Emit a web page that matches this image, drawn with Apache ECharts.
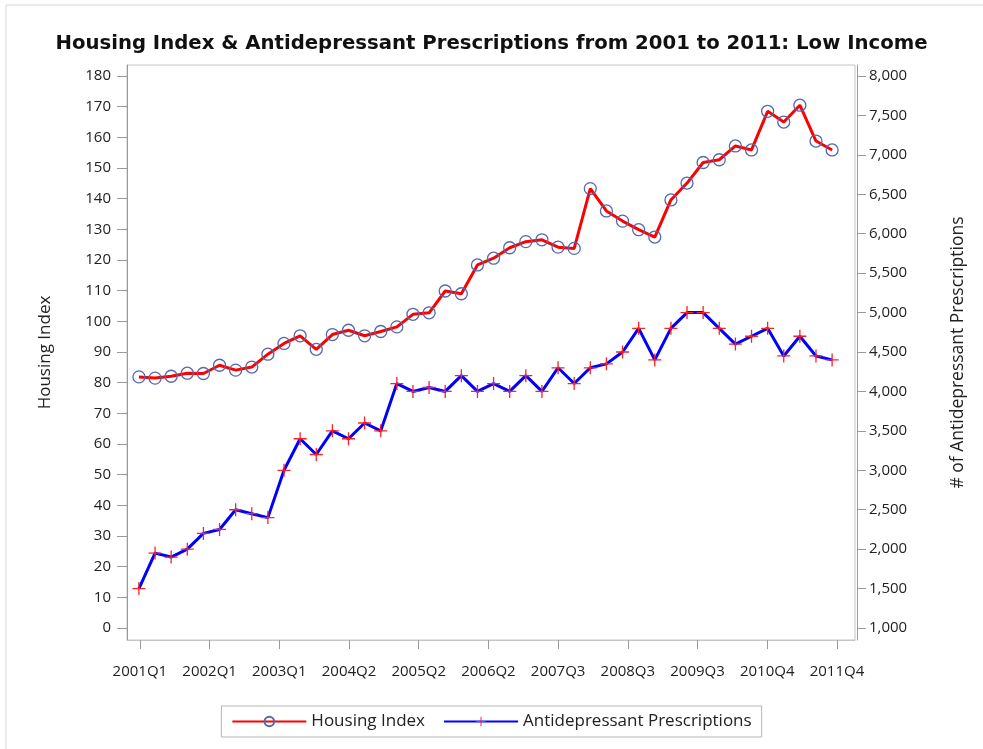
<!DOCTYPE html>
<html lang="en">
<head>
    <meta charset="UTF-8">
    <title>Housing Index & Antidepressant Prescriptions</title>
    <style>
        *{
            margin: 0;
            padding: 0;
        }
        body{
            background: #fff;
        }
        #chart{
            width: 983px;
            height: 749px;
        }
    </style>
</head>
<body>
    <div id="chart"></div>
    <script src="https://cdn.jsdelivr.net/npm/echarts@6/dist/echarts.min.js"></script>
    <script>
        // quarters 2001Q1 .. 2011Q4
        var years = [2001, 2002, 2003, 2004, 2005, 2006, 2007, 2008, 2009, 2010, 2011];
        var quarters = [];
        years.forEach(function(y){
            for (var q = 1; q <= 4; q++) quarters.push(y + 'Q' + q);
        });

        var housingIndex = [81.9, 81.5, 82.1, 83.1, 83.0, 85.7, 84.1, 85.1, 89.3, 92.8, 95.3,
            90.9, 95.7, 97.1, 95.3, 96.7, 98.2, 102.3, 102.8, 109.9, 109.0, 118.4, 120.6,
            124.0, 126.0, 126.6, 124.2, 123.8, 143.3, 136.0, 132.7, 129.9, 127.5, 139.6,
            145.1, 151.8, 152.7, 157.2, 155.9, 168.5, 165.0, 170.5, 158.8, 155.9];

        var prescriptions = [1500, 1950, 1900, 2000, 2200, 2250, 2500, 2450, 2400, 3000, 3400,
            3200, 3500, 3400, 3600, 3500, 4100, 4000, 4050, 4000, 4200, 4000, 4100, 4000,
            4200, 4000, 4300, 4100, 4300, 4350, 4500, 4800, 4400, 4800, 5000, 5000, 4800,
            4600, 4700, 4800, 4450, 4700, 4450, 4400];

        var tickLabels = ['2001Q1', '2002Q1', '2003Q1', '2004Q2', '2005Q2', '2006Q2',
            '2007Q3', '2008Q3', '2009Q3', '2010Q4', '2011Q4'];
        var leftTicks = [0, 10, 20, 30, 40, 50, 60, 70, 80, 90, 100, 110, 120, 130, 140, 150, 160, 170, 180];
        var rightTicks = [1000, 1500, 2000, 2500, 3000, 3500, 4000, 4500, 5000, 5500, 6000, 6500, 7000, 7500, 8000];

        // x ticks are evenly spread over the quarter range
        var tickStart = 0.06, tickStep = 4.324;
        var xTicks = tickLabels.map(function(l, i){ return tickStart + i * tickStep; });

        var font = 'Open Sans';
        var axisGray = '#9a9a9a';
        var textColor = '#222';

        var chart = echarts.init(document.getElementById('chart'));

        var option = {
            animation: false,
            title: {
                text: 'Housing Index & Antidepressant Prescriptions from 2001 to 2011: Low Income',
                left: 'center',
                top: 29,
                textStyle: {
                    fontFamily: 'DejaVu Sans',
                    fontSize: 19.7,
                    fontWeight: 'bold',
                    color: '#111'
                }
            },
            graphic: [{
                type: 'rect',
                shape: { x: 6, y: 5, width: 990, height: 760 },
                style: { fill: 'none', stroke: '#d6d6d6', lineWidth: 1 },
                silent: true
            }],
            legend: {
                bottom: 12,
                left: 'center',
                itemWidth: 74,
                itemHeight: 12,
                itemGap: 18,
                padding: [7, 10, 7, 10],
                borderColor: '#b5b5b5',
                borderWidth: 1,
                borderRadius: 0,
                textStyle: { fontFamily: font, fontSize: 17, color: textColor },
                data: ['Housing Index', 'Antidepressant Prescriptions']
            },
            grid: {
                left: 127,
                right: 128,
                top: 65,
                bottom: 109,
                show: true,
                borderColor: '#c4c4c4',
                borderWidth: 1,
                backgroundColor: '#fff'
            },
            xAxis: {
                type: 'value',
                min: -0.74,
                max: 44.42,
                splitLine: { show: false },
                axisLine: { show: true, onZero: false, lineStyle: { color: '#c4c4c4' } },
                axisTick: {
                    show: true,
                    customValues: xTicks,
                    length: 9,
                    lineStyle: { color: axisGray }
                },
                axisLabel: {
                    customValues: xTicks,
                    margin: 24,
                    fontFamily: font,
                    fontSize: 15,
                    color: textColor,
                    formatter: function(v){
                        return tickLabels[Math.round((v - tickStart) / tickStep)];
                    }
                }
            },
            yAxis: [{
                type: 'value',
                name: 'Housing Index',
                nameLocation: 'middle',
                nameGap: 73,
                nameTextStyle: { fontFamily: font, fontSize: 17, color: textColor },
                min: -3.9,
                max: 183.6,
                splitLine: { show: false },
                axisLine: { show: true, onZero: false, lineStyle: { color: axisGray } },
                axisTick: {
                    show: true,
                    customValues: leftTicks,
                    length: 10,
                    lineStyle: { color: axisGray }
                },
                axisLabel: {
                    customValues: leftTicks,
                    margin: 16,
                    fontFamily: font,
                    fontSize: 15,
                    color: textColor
                }
            }, {
                type: 'value',
                name: '# of Antidepressant Prescriptions',
                nameLocation: 'middle',
                nameGap: 92,
                nameRotate: 90,
                nameTextStyle: { fontFamily: font, fontSize: 17.5, color: textColor },
                position: 'right',
                offset: 2,
                min: 848,
                max: 8139.5,
                splitLine: { show: false },
                axisLine: { show: true, onZero: false, lineStyle: { color: axisGray } },
                axisTick: {
                    show: true,
                    customValues: rightTicks,
                    length: 9,
                    lineStyle: { color: axisGray }
                },
                axisLabel: {
                    customValues: rightTicks,
                    margin: 12,
                    fontFamily: font,
                    fontSize: 15,
                    color: textColor,
                    formatter: function(v){
                        return v.toLocaleString('en-US');
                    }
                }
            }],
            series: [{
                name: 'Housing Index',
                type: 'line',
                yAxisIndex: 0,
                data: housingIndex.map(function(v, i){ return [i, v]; }),
                symbol: 'circle',
                symbolSize: 12,
                lineStyle: { color: '#ff0000', width: 3 },
                itemStyle: {
                    color: 'rgba(255,255,255,0)',
                    borderColor: '#5468b0',
                    borderWidth: 1.3
                },
                z: 3
            }, {
                name: 'Antidepressant Prescriptions',
                type: 'line',
                yAxisIndex: 1,
                data: prescriptions.map(function(v, i){ return [i, v]; }),
                symbol: 'path://M9,0h2v9h9v2h-9v9h-2v-9h-9v-2h9z',
                symbolSize: 13,
                lineStyle: { color: '#0000ff', width: 3 },
                itemStyle: { color: '#ff2020', borderWidth: 0 },
                z: 2
            }]
        };

        chart.setOption(option);
    </script>
</body>
</html>
